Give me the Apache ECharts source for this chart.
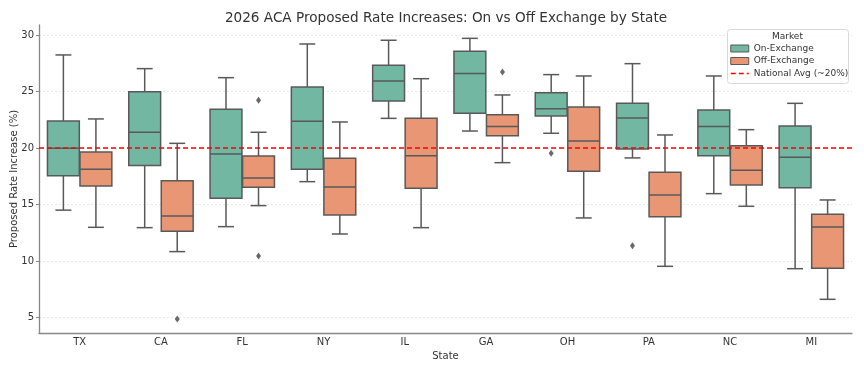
<!DOCTYPE html>
<html>
<head>
<meta charset="utf-8">
<script src="https://cdn.jsdelivr.net/npm/echarts@6/dist/echarts.min.js"></script>
<style>html,body{margin:0;padding:0;background:#fff}#c{width:864px;height:369px}</style>
</head>
<body>
<div id="c"></div>
<script>
const states = ['TX','CA','FL','NY','IL','GA','OH','PA','NC','MI'];
const yTicks = [5,10,15,20,25,30];
const nationalAvg = 20;

const onLow  = [14.5, 12.95, 13.04, 17.02, 22.62, 21.5, 21.3, 19.12, 15.96, 9.32];
const onQ1   = [17.55, 18.44, 15.55, 18.11, 24.16, 23.07, 22.83, 19.91, 19.32, 16.49];
const onMed  = [19.97, 21.39, 19.47, 22.36, 25.93, 26.58, 23.48, 22.65, 21.89, 19.17];
const onQ3   = [22.39, 24.98, 23.42, 25.4, 27.32, 28.55, 24.89, 23.95, 23.36, 21.95];
const onHigh = [28.23, 27.02, 26.22, 29.2, 29.53, 29.7, 26.49, 27.46, 26.37, 23.95];

const offLow  = [12.98, 10.83, 14.9, 12.39, 12.95, 18.7, 13.81, 9.53, 14.84, 6.61];
const offQ1   = [16.64, 12.63, 16.52, 14.07, 16.43, 21.09, 17.94, 13.92, 16.73, 9.35];
const offMed  = [18.11, 13.98, 17.35, 16.55, 19.32, 21.89, 20.62, 15.84, 18.02, 13.01];
const offQ3   = [19.65, 17.11, 19.29, 19.09, 22.62, 22.95, 23.63, 17.85, 20.2, 14.13];
const offHigh = [22.57, 20.41, 21.39, 22.3, 26.13, 24.69, 26.37, 21.15, 21.62, 15.4];

const onOutlierStates = ['OH','PA'];
const onOutlierValues = [19.53, 11.36];
const offOutlierStates = ['CA','FL','FL','GA'];
const offOutlierValues = [4.87, 24.22, 10.44, 26.73];

const GREEN = '#71b7a1', ORANGE = '#e99675', EDGE = '#595959';

function boxData(lo, q1, md, q3, hi) {
  return states.map((s, i) => [i, lo[i], q1[i], md[i], q3[i], hi[i]]);
}

function makeRender(side, fill) {
  return function (params, api) {
    const i = api.value(0);
    const band = api.size([1, 0])[0];
    const cx = api.coord([i, 0])[0] + side * band * 0.2;
    const w = band * 0.392;
    const yLo = api.coord([i, api.value(1)])[1];
    const yQ1 = api.coord([i, api.value(2)])[1];
    const yMd = api.coord([i, api.value(3)])[1];
    const yQ3 = api.coord([i, api.value(4)])[1];
    const yHi = api.coord([i, api.value(5)])[1];
    const ls = { stroke: EDGE, lineWidth: 1.5 };
    const cap = w / 4;
    return {
      type: 'group',
      children: [
        { type: 'line', shape: { x1: cx, y1: yQ1, x2: cx, y2: yLo }, style: ls },
        { type: 'line', shape: { x1: cx, y1: yQ3, x2: cx, y2: yHi }, style: ls },
        { type: 'line', shape: { x1: cx - cap, y1: yLo, x2: cx + cap, y2: yLo }, style: ls },
        { type: 'line', shape: { x1: cx - cap, y1: yHi, x2: cx + cap, y2: yHi }, style: ls },
        { type: 'rect', shape: { x: cx - w / 2, y: yQ3, width: w, height: yQ1 - yQ3 },
          style: { fill: fill, stroke: EDGE, lineWidth: 1.5 } },
        { type: 'line', shape: { x1: cx - w / 2, y1: yMd, x2: cx + w / 2, y2: yMd }, style: ls }
      ]
    };
  };
}

const chart = echarts.init(document.getElementById('c'), null, { renderer: 'canvas' });
const FONT = 'DejaVu Sans';

chart.setOption({
  animation: false,
  backgroundColor: '#fff',
  textStyle: { fontFamily: FONT },
  title: {
    text: '2026 ACA Proposed Rate Increases: On vs Off Exchange by State',
    left: 441, top: 6, textAlign: 'center',
    textStyle: { fontFamily: FONT, fontSize: 13.6, fontWeight: 'normal', color: '#333' }
  },
  grid: { left: 39, right: 12, top: 25, bottom: 36, containLabel: false, outerBoundsMode: 'none' },
  legend: {
    orient: 'vertical', left: 730, top: 44, z: 10, padding: 0,
    itemWidth: 18, itemHeight: 7, itemGap: 3.5,
    textStyle: { fontFamily: FONT, fontSize: 9, color: '#333' },
    data: [
      { name: 'On-Exchange', icon: 'rect', itemStyle: { color: GREEN, borderColor: EDGE, borderWidth: 1 } },
      { name: 'Off-Exchange', icon: 'rect', itemStyle: { color: ORANGE, borderColor: EDGE, borderWidth: 1 } },
      { name: 'National Avg (~20%)', itemStyle: { color: 'rgba(0,0,0,0)', borderColor: 'rgba(0,0,0,0)', borderWidth: 0, opacity: 0 },
        lineStyle: { color: '#ff0000', type: [5, 3], width: 1.5 } }
    ]
  },
  graphic: [
    { type: 'rect', left: 727, top: 29, z: 3,
      shape: { width: 121, height: 54, r: 3 },
      style: { fill: 'rgba(255,255,255,0.85)', stroke: '#d8d8d8', lineWidth: 1 } },
    { type: 'text', left: 772, top: 32, z: 11,
      style: { text: 'Market', fontFamily: FONT, fontSize: 9, fill: '#333' } }
  ],
  xAxis: {
    type: 'category', data: states,
    name: 'State', nameLocation: 'middle', nameGap: 17,
    nameTextStyle: { fontFamily: FONT, fontSize: 10, color: '#333' },
    axisLine: { lineStyle: { color: '#888', width: 1.3 } },
    axisTick: { alignWithLabel: true, length: 3, lineStyle: { color: '#888' } },
    axisLabel: { fontFamily: FONT, fontSize: 10, color: '#333', margin: 4 },
    splitLine: { show: false }
  },
  yAxis: {
    type: 'value', min: 3.63, max: 30.88,
    name: 'Proposed Rate Increase (%)', nameLocation: 'middle', nameGap: 20, nameMoveOverlap: false,
    nameTextStyle: { fontFamily: FONT, fontSize: 10, color: '#333' },
    axisLine: { show: true, lineStyle: { color: '#888', width: 1.3 } },
    axisTick: { show: true, length: 3, customValues: yTicks, lineStyle: { color: '#888' } },
    axisLabel: { fontFamily: FONT, fontSize: 10, color: '#333', margin: 5, customValues: yTicks },
    splitLine: { show: true, lineStyle: { color: '#e2e2e2', type: [2, 2], width: 0.8 } }
  },
  series: [
    {
      name: 'On-Exchange', type: 'custom',
      itemStyle: { color: GREEN },
      renderItem: makeRender(-1, GREEN),
      encode: { x: 0, y: [1, 2, 3, 4, 5] },
      data: boxData(onLow, onQ1, onMed, onQ3, onHigh),
      z: 2
    },
    {
      name: 'Off-Exchange', type: 'custom',
      itemStyle: { color: ORANGE },
      renderItem: makeRender(1, ORANGE),
      encode: { x: 0, y: [1, 2, 3, 4, 5] },
      data: boxData(offLow, offQ1, offMed, offQ3, offHigh),
      z: 2
    },
    {
      name: 'On-Exchange outliers', type: 'scatter',
      symbol: 'diamond', symbolSize: [5, 7], symbolOffset: [-16.3, 0],
      itemStyle: { color: '#444' },
      data: onOutlierStates.map((s, i) => [s, onOutlierValues[i]]),
      z: 3
    },
    {
      name: 'Off-Exchange outliers', type: 'scatter',
      symbol: 'diamond', symbolSize: [5, 7], symbolOffset: [16.3, 0],
      itemStyle: { color: '#444' },
      data: offOutlierStates.map((s, i) => [s, offOutlierValues[i]]),
      z: 3
    },
    {
      name: 'National Avg (~20%)', type: 'line',
      symbol: 'none', data: [],
      itemStyle: { color: '#ff0000' },
      lineStyle: { color: '#ff0000', type: [5, 3], width: 1.5 },
      markLine: {
        silent: true, symbol: ['none', 'none'], label: { show: false },
        lineStyle: { color: '#ff0000', type: [5, 3], width: 1.5 },
        data: [{ yAxis: nationalAvg }]
      },
      z: 5
    }
  ]
});
</script>
</body>
</html>
